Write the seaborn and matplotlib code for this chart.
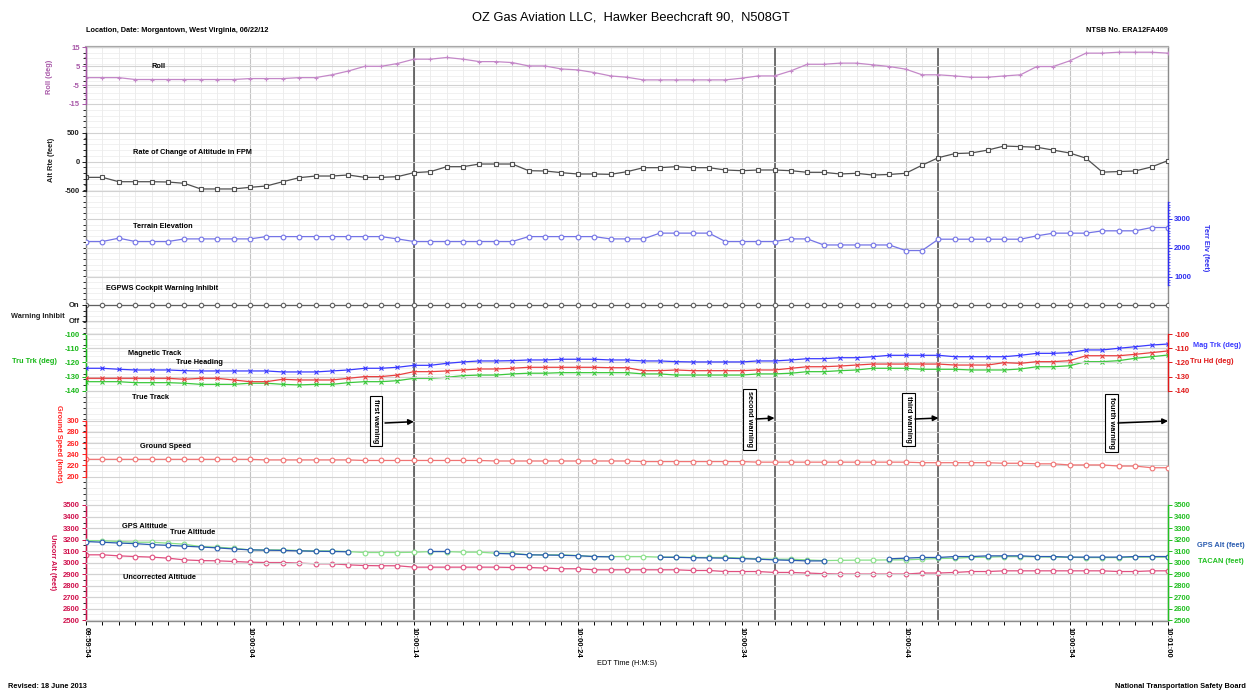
import numpy as np
import pandas as pd
import matplotlib
matplotlib.use("Agg")
import matplotlib.pyplot as plt
from matplotlib.ticker import FixedLocator
import seaborn as sns

# FDR-style data, one sample per second from 09:59:54 to 10:01:00 EDT
elapsed_s = np.arange(67)
time_ticks = [0, 10, 20, 30, 40, 50, 60, 66]
time_labels = ["09:59:54", "10:00:04", "10:00:14", "10:00:24",
               "10:00:34", "10:00:44", "10:00:54", "10:01:00"]
warning_s = [20, 42, 52, 66]
warning_names = ["first warning", "second warning", "third warning", "fourth warning"]

roll_deg = [-1, -1, -1, -2, -2, -2, -2, -2, -2, -2, -1.5, -1.5, -1.5, -1, -1,
            0.5, 2.5, 5, 5, 6.5, 8.8,
            8.8, 9.7, 8.8, 7.5, 7.5, 7, 5.2, 5.2, 3.6, 3.1, 1.7, -0.1, -0.8,
            -2.2, -2.2, -2.2, -2.2, -2.2, -2.2,
            -1.3, -0.1, -0.1, 2.6, 6.1, 6.1, 6.7, 6.7, 5.8, 4.9, 3.5,
            0.5, 0.5, -0.1, -0.8, -0.8, -0.1, 0.5, 4.9, 4.9, 7.9, 12, 12, 12.5, 12.5, 12.5, 12]

alt_rate_fpm = [-270, -270, -345, -345, -345, -350, -373, -470, -470, -470, -442, -419, -345,
                -276, -247, -247, -229, -270, -270, -258, -189,
                -172, -86, -86, -40, -40, -40, -155, -160, -189, -212, -212, -218, -172,
                -103, -103, -86, -103, -103, -143, -155, -143, -143, -155, -183, -183, -212,
                -200, -230, -220, -200, -60, 70, 140, 150, 200, 270, 260, 250, 200, 150,
                60, -180, -170, -160, -90, 20]

terrain_ft = [2220, 2220, 2336, 2220, 2220, 2220, 2310, 2310, 2310, 2310, 2310,
              2390, 2390, 2390, 2390, 2390, 2390, 2390, 2390, 2310, 2220,
              2220, 2220, 2220, 2220, 2220, 2220, 2390, 2390, 2390, 2390, 2390,
              2310, 2310, 2310, 2510, 2510, 2510, 2510, 2220, 2220, 2220, 2220,
              2310, 2310, 2100, 2100,
              2100, 2100, 2100, 1907, 1907, 2300, 2300, 2300, 2300, 2300, 2300,
              2416, 2509, 2509, 2509, 2590, 2590, 2590, 2705, 2705]

egpws_inhibit = [1] * 67  # "On" for the whole window

mag_track = [-124.1, -124.1, -124.8, -125.3, -125.3, -125.3, -125.8, -126, -126, -126, -126,
             -126, -126.7, -126.7, -126.7, -126, -125.3, -124.1, -124.1, -123.4, -122.0,
             -122.0, -120.6, -119.6, -118.9, -118.9, -118.7, -118.2, -118.2, -117.7, -117.7,
             -117.7, -118.2, -118.2, -118.9, -118.9, -119.4, -119.6, -119.6, -119.6, -119.6,
             -118.9, -118.9, -118.2, -117.3, -117.3, -116.6,
             -116.6, -115.9, -114.9, -114.9, -114.9, -114.9, -115.9, -115.9, -115.9, -115.9,
             -114.9, -113.5, -113.5, -113.0, -111.1, -111.1, -109.9, -108.8, -107.6, -106.9]

true_heading = [-131.2, -131.2, -131.2, -131.2, -131.2, -131.2, -131.9, -131.2, -131.2, -132.4,
                -133.6, -133.6, -131.9, -132.4, -132.4, -132.4, -131.2, -130.0, -130.0, -128.9,
                -126.5,
                -126.5, -126.0, -125.3, -124.6, -124.6, -124.1, -123.4, -123.4, -123.4, -123.4,
                -123.4, -123.7, -123.7, -125.8, -125.8, -125.3, -125.8, -125.8, -125.8, -125.8,
                -125.3, -125.3, -124.1, -123.0, -123.0, -122.5,
                -121.8, -121.1, -121.1, -121.1, -121.1, -121.1, -121.8, -121.8, -121.8, -120.1,
                -120.6, -119.4, -119.4, -118.7, -115.2, -115.2, -115.2, -114.2, -113.0, -111.8]

true_track = [-133.6, -133.6, -133.6, -134.3, -134.3, -134.3, -134.7, -135.5, -135.5, -135.5,
              -134.7, -134.7, -135.5, -135.9, -135.5, -135.5, -134.3, -133.6, -133.6, -132.9,
              -131.2,
              -131.2, -130.5, -129.3, -128.9, -128.9, -128.1, -127.6, -127.6, -127.2, -127.2,
              -127.2, -127.2, -127.2, -128.1, -128.1, -128.9, -128.9, -128.9, -128.9, -128.9,
              -128.1, -128.1, -127.6, -126.5, -126.5, -125.8,
              -125.3, -124.1, -124.1, -124.1, -124.8, -124.8, -124.8, -125.3, -125.3, -125.3,
              -124.6, -123.0, -123.0, -122.3, -119.4, -119.4, -118.7, -117.0, -115.9, -114.7]

ground_speed_kt = [231, 231, 231, 231, 231, 231, 231, 231, 231, 231, 231,
                   230, 230, 230, 230, 230, 230,
                   229, 229, 229, 229, 229, 229, 229, 229,
                   228, 228, 228, 228, 228, 228, 228, 228, 228,
                   227, 227, 227, 227, 227, 227, 227,
                   226, 226, 226, 226, 226, 226, 226, 226, 226, 226,
                   225, 225, 225, 225, 225, 224, 224, 223, 223,
                   221, 221, 221, 219, 219, 216, 216]

true_alt_ft = [3191, 3191, 3183, 3177, 3177, 3169, 3160, 3139, 3134, 3125, 3111, 3111, 3111,
               3105, 3102, 3102, 3096, 3088, 3088, 3088,
               3090, 3096, 3096, 3091, 3091, 3082, 3082, 3068, 3068, 3068, 3062, 3053, 3053,
               3053, 3053, 3048, 3048, 3045, 3045, 3045, 3039, 3033, 3030, 3030, 3024, 3018, 3020,
               3022, 3022, 3024, 3024, 3030, 3036, 3038, 3046, 3048, 3053, 3053, 3051, 3048,
               3046, 3044, 3044, 3044, 3048, 3048, 3048]

nan = np.nan
gps_alt_ft = [3183, 3177, 3170, 3165, 3156, 3150, 3143, 3136, 3128, 3119, 3111, 3108, 3106,
              3102, 3099, 3097, 3094, nan, nan, nan, nan,
              3100, 3100, nan, nan,
              3080, 3076, 3068, 3066, 3064, 3060, 3053, 3050, nan, nan,
              3047, 3046, 3043, 3041, 3039, 3035, 3030, 3024, 3020, 3015, 3015, nan, nan, nan,
              3033, 3039, 3045, 3045, 3053, 3053, 3059, 3059, 3059, 3053, 3053, 3048, 3048,
              3048, 3048, 3053, 3053, 3053]

uncorr_alt_ft = [3068, 3068, 3059, 3053, 3048, 3039, 3024, 3018, 3016, 3010, 3004, 3001, 3001,
                 2996, 2990, 2990, 2981, 2975, 2973, 2973, 2961,
                 2961, 2961, 2961, 2961, 2961, 2958, 2958, 2953, 2947, 2947, 2938, 2938, 2938,
                 2938, 2938, 2938, 2932, 2932, 2923, 2923, 2923, 2915, 2915, 2910, 2904, 2901,
                 2901, 2901, 2901, 2901, 2910, 2910, 2915, 2923, 2923, 2929, 2929, 2929, 2929,
                 2929, 2929, 2929, 2923, 2923, 2929, 2929]

plt.rcParams["font.family"] = ["Liberation Sans", "DejaVu Sans"]
plt.rcParams["font.weight"] = "bold"
plt.rcParams["axes.unicode_minus"] = False

FS = 5.3    # in-plot captions
TFS = 5.5   # tick labels

# the page is laid out in pixels; the plot box spans these columns / rows
W, H = 1249, 690
LEFT_PX, RIGHT_PX, TOP_PX, BOT_PX = 86, 1168, 47, 620.5
SEC_PX = (RIGHT_PX - LEFT_PX) / 66
RECT = [LEFT_PX / W, 1 - BOT_PX / H, (RIGHT_PX - LEFT_PX) / W, (BOT_PX - TOP_PX) / H]


def sx(px):
    # pixel column -> seconds (for placing text)
    return (px - LEFT_PX) / SEC_PX


fig = plt.figure(figsize=(W / 100, H / 100), dpi=100)
ax0 = fig.add_axes(RECT)
ax0.set_xlim(0, 66)
ax0.set_ylim(BOT_PX, TOP_PX)
ax0.set_yticks([])
ax0.set_yticks(np.arange(TOP_PX + 5.7, BOT_PX, 5.73), minor=True)
ax0.tick_params(axis="y", which="both", left=False, labelleft=False)
ax0.set_xticks(time_ticks)
ax0.set_xticklabels(time_labels)
ax0.set_xticks(elapsed_s, minor=True)
ax0.tick_params(axis="x", which="both", length=3, width=0.7, labelsize=TFS, pad=2)
plt.setp(ax0.get_xticklabels(), rotation=270, ha="center", va="top")
ax0.grid(axis="x", which="major", color="#c4c4c4", linewidth=0.8)
ax0.grid(axis="x", which="minor", color="#e6e6e6", linewidth=0.5)
ax0.grid(axis="y", which="minor", color="#ececec", linewidth=0.5)
for s in ax0.spines.values():
    s.set_color("#8c8c8c")
    s.set_linewidth(1.0)
ax0.spines["top"].set_linewidth(1.6)
ax0.spines["top"].set_color("#a8a8a8")
for t in warning_s[:3]:
    ax0.axvline(t, color="#4a4a4a", linewidth=1.1)
ax0.set_xlabel("EDT Time (H:M:S)", fontsize=FS, labelpad=1)


def band_axis(side, top, bottom, ticks, color, bounds, minor=None, labels=None):
    ax = ax0.twinx()
    (v_a, y_a), (v_b, y_b) = top, bottom
    per_px = (v_a - v_b) / (y_b - y_a)
    ax.set_ylim(v_b - (BOT_PX - y_b) * per_px, v_a + (y_a - TOP_PX) * per_px)
    if side == "left":
        ax.yaxis.tick_left()
    for name, sp in ax.spines.items():
        sp.set_visible(name == side)
    ax.spines[side].set_bounds(*bounds)
    ax.spines[side].set_color(color)
    ax.spines[side].set_linewidth(1.0)
    ax.yaxis.set_major_locator(FixedLocator(ticks))
    if labels is not None:
        ax.set_yticklabels(labels)
    if minor is not None:
        ax.yaxis.set_minor_locator(FixedLocator(minor))
    ax.tick_params(axis="y", which="major", colors=color, labelsize=TFS, length=3, width=0.7, pad=1.5)
    ax.tick_params(axis="y", which="minor", colors=color, length=1.6, width=0.5)
    ax.grid(axis="y", which="major", color="#d2d2d2", linewidth=0.8)
    return ax


def trace(ax, values, color, marker, ms=3.4, lw=0.9, mfc="white"):
    v = pd.Series(values, dtype=float)
    df = pd.DataFrame({"t": elapsed_s, "v": v, "seg": v.isna().cumsum()}).dropna()
    sns.lineplot(data=df, x="t", y="v", units="seg", estimator=None, ax=ax, color=color,
                 marker=marker, markersize=ms, markerfacecolor=mfc, markeredgecolor=color,
                 markeredgewidth=0.8, linewidth=lw, legend=False)
    ax.set_ylabel("")


ax_roll = band_axis("left", (15, 47.5), (-15, 104), [-15, -5, 5, 15], "#a858a8", (-15, 15),
                    minor=[-10, 0, 10])
trace(ax_roll, roll_deg, "#c488c8", "+", ms=3.5)

ax_rate = band_axis("left", (500, 132.7), (-500, 190.7), [-500, 0, 500], "#202020", (-500, 500),
                    minor=np.arange(-500, 501, 100))
trace(ax_rate, alt_rate_fpm, "#505050", "s", ms=3.2)

ax_terr = band_axis("right", (3000, 219), (1000, 276.7), [1000, 2000, 3000], "#2e2ef0", (700, 3600),
                    minor=np.arange(700, 3601, 100))
trace(ax_terr, terrain_ft, "#7474e6", "o")

ax_egpws = band_axis("left", (1, 305), (0, 321), [0, 1], "#202020", (0, 1), labels=["Off", "On"])
trace(ax_egpws, egpws_inhibit, "#606060", "o", ms=3.2)

track_ticks = [-140, -130, -120, -110, -100]
ax_trk = band_axis("left", (-100, 334.3), (-140, 390.7), track_ticks, "#18b818", (-140, -100))
ax_hdg = band_axis("right", (-100, 334.3), (-140, 390.7), track_ticks, "#e01818", (-140, -100))
trace(ax_trk, true_track, "#3cc83c", "x", ms=3)
trace(ax_hdg, true_heading, "#e84040", "x", ms=3)
trace(ax_hdg, mag_track, "#3a3aff", "x", ms=3)

ax_gs = band_axis("left", (300, 420.7), (200, 476.7), [200, 220, 240, 260, 280, 300], "#ff2424",
                  (200, 300), minor=np.arange(200, 301, 10))
trace(ax_gs, ground_speed_kt, "#f07474", "o")

# bottom tick (2500) sits right on the bottom edge of the plot box
alt_ticks = np.arange(2500, 3501, 100)
ax_alt = band_axis("left", (3500, 505), (2500, BOT_PX - 0.2), alt_ticks, "#d0104c", (2500, 3500))
ax_tac = band_axis("right", (3500, 505), (2500, BOT_PX - 0.2), alt_ticks, "#22c022", (2500, 3500))
trace(ax_alt, uncorr_alt_ft, "#e05080", "o")
trace(ax_tac, true_alt_ft, "#88e088", "o")
trace(ax_tac, gps_alt_ft, "#2a5cb0", "o")

for ax in fig.axes[1:]:
    ax.set_xlim(0, 66)
ax0.set_xlim(0, 66)

# overlay for in-plot labels and warning call-outs
top = fig.add_axes(RECT, facecolor="none")
top.set_axis_off()
top.set_xlim(0, 66)
top.set_ylim(BOT_PX, TOP_PX)

series_names = [("Roll", 152, 67), ("Rate of Change of Altitude in FPM", 133, 153),
                ("Terrain Elevation", 133, 227), ("EGPWS Cockpit Warning Inhibit", 106, 289),
                ("Magnetic Track", 128, 354), ("True Heading", 176, 363), ("True Track", 132, 398),
                ("Ground Speed", 140, 447), ("GPS Altitude", 122, 527), ("True Altitude", 170, 533),
                ("Uncorrected Altitude", 123, 578)]
for txt, px, py in series_names:
    top.text(sx(px), py, txt, fontsize=FS, ha="left", va="center", color="black")

box_px = [(376, 421), (749.5, 419.5), (908.5, 419.5), (1111.5, 423)]
tail_px = [(385, 423), (756, 419), (915, 419), (1118, 423)]
head_py = [421.7, 418, 418, 421]
for name, t, (bx, by), (ax_, ay_), hy in zip(warning_names, warning_s, box_px, tail_px, head_py):
    top.text(sx(bx), by, name, rotation=270, fontsize=FS, ha="center", va="center",
             bbox=dict(boxstyle="square,pad=0.4", fc="white", ec="black", lw=0.8))
    top.annotate("", xy=(t, hy), xytext=(sx(ax_), ay_),
                 arrowprops=dict(arrowstyle="-|>", color="black", lw=1.1, mutation_scale=8,
                                 shrinkA=0, shrinkB=0), annotation_clip=False)

# axis captions outside the plot box
side_text = [("Roll (deg)", 50, 77, 90, "#a858a8", "center"),
             ("Alt Rte (feet)", 52, 160, 90, "#202020", "center"),
             ("Ground Speed (knots)", 59, 444, 270, "#ff2424", "center"),
             ("Uncorr Alt (feet)", 53, 562, 270, "#d0104c", "center"),
             ("Terr Elv (feet)", 1205, 248, 270, "#2e2ef0", "center"),
             ("Warning Inhibit", 11, 317, 0, "#202020", "left"),
             ("Tru Trk (deg)", 12, 362, 0, "#18b818", "left"),
             ("Mag Trk (deg)", 1193, 346, 0, "#3a3aff", "left"),
             ("Tru Hd (deg)", 1190, 362, 0, "#e01818", "left"),
             ("GPS Alt (feet)", 1197, 546, 0, "#2a5cb0", "left"),
             ("TACAN (feet)", 1198, 562, 0, "#22c022", "left")]
for txt, px, py, rot, col, ha in side_text:
    top.text(sx(px), py, txt, rotation=rot, fontsize=FS, color=col, ha=ha, va="center",
             clip_on=False)

fig.text(0.5 * (471 + 790) / W, 1 - 17 / H, "OZ Gas Aviation LLC,  Hawker Beechcraft 90,  N508GT",
         ha="center", va="center", fontsize=9.3, fontweight="normal")
fig.text(LEFT_PX / W, 1 - 30 / H, "Location, Date: Morgantown, West Virginia, 06/22/12",
         ha="left", va="center", fontsize=5.3)
fig.text(RIGHT_PX / W, 1 - 30 / H, "NTSB No. ERA12FA409", ha="right", va="center", fontsize=5.3)
fig.text(8 / W, 1 - 686 / H, "Revised: 18 June 2013", ha="left", va="center", fontsize=5.3)
fig.text(1115 / W, 1 - 686 / H, "National Transportation Safety Board", ha="left", va="center",
         fontsize=5.3)

fig.savefig("out.png", dpi=100, facecolor="white")
